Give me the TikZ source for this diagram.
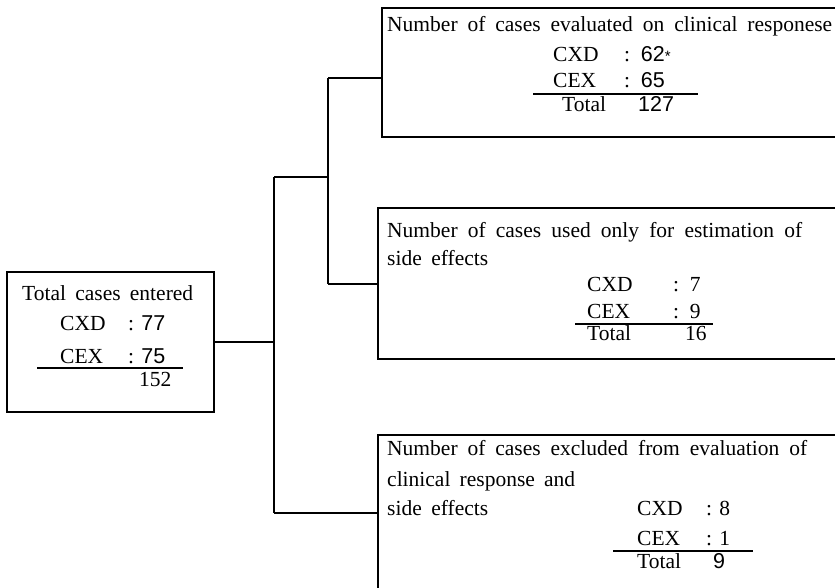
\documentclass[tikz,border=0pt]{standalone}
\usepackage{fontspec}
\setmainfont{Liberation Serif}
\newfontfamily\numfont{Liberation Sans}
\begin{document}
\begin{tikzpicture}[x=1pt,y=-1pt,
  box/.style={draw, line width=1.3pt, rectangle, anchor=north west, inner sep=0pt, outer sep=0pt},
  txt/.style={anchor=base west, inner sep=0pt, font=\fontsize{21.5}{25}\selectfont},
  wire/.style={line width=1.3pt},
  rule/.style={line width=1.3pt}]
\useasboundingbox (0,0) rectangle (835,588);
\clip (0,0) rectangle (835,588);
% boxes
\node[box, minimum width=207pt, minimum height=140pt] (total) at (7,272) {};
\node[box, minimum width=470pt, minimum height=129pt] (eval) at (382,8) {};
\node[box, minimum width=475pt, minimum height=151pt] (side) at (378,208) {};
\node[box, minimum width=475pt, minimum height=156pt] (excl) at (378,435) {};
% junctions
\coordinate (j1) at (274,342);
\coordinate (j1top) at (274,177);
\coordinate (j1bot) at (274,513);
\coordinate (j2) at (328,177);
\coordinate (j2top) at (328,78);
\coordinate (j2bot) at (328,284);
% connectors
\draw[wire] (total.east |- j1) -- (j1);
\draw[wire] (j1top) -- (j1bot);
\draw[wire] (j1top) -- (j2);
\draw[wire] (j2top) -- (j2bot);
\draw[wire] (j2top) -- (eval.west |- j2top);
\draw[wire] (j2bot) -- (side.west |- j2bot);
\draw[wire] (j1bot) -- (excl.west |- j1bot);
% total box text
\node[txt] (t1) at (22,300) {\makebox[171pt][s]{Total cases entered}};
\node[txt] (t2) at (60,330) {CXD};
\node[txt] (t3) at (128,330) {: {\numfont 77}};
\node[txt] (t4) at (60,363) {CEX};
\node[txt] (t5) at (128,363) {: {\numfont 75}};
\draw[rule] (37,368) -- (183,368);
\node[txt] (t6) at (139,386) {152};
% eval box text
\node[txt] (e1) at (387,32) {\makebox[445pt][s]{Number of cases evaluated on clinical responese}};
\node[txt] (e2) at (553,62) {CXD};
\node[txt] (e3) at (624,62) {:\ \ {\numfont 62}{\numfont\fontsize{15}{15}\selectfont *}};
\node[txt] (e4) at (553,88) {CEX};
\node[txt] (e5) at (624,88) {:\ \ {\numfont 65}};
\draw[rule] (533,94) -- (698,94);
\node[txt] (e6) at (562,112) {Total};
\node[txt] (e7) at (638,112) {{\numfont 127}};
% side box text
\node[txt] (s1) at (387,237) {\makebox[415pt][s]{Number of cases used only for estimation of}};
\node[txt] (s2) at (387,265) {\makebox[101pt][s]{side effects}};
\node[txt] (s3) at (587,291) {CXD};
\node[txt] (s4) at (673,291) {:\ \ 7};
\node[txt] (s5) at (587,318) {CEX};
\node[txt] (s6) at (673,318) {:\ \ 9};
\draw[rule] (575,324) -- (713,324);
\node[txt] (s7) at (587,340) {Total};
\node[txt] (s8) at (685,340) {16};
% excl box text
\node[txt] (x1) at (387,455) {\makebox[420pt][s]{Number of cases excluded from evaluation of}};
\node[txt] (x2) at (387,486) {\makebox[188pt][s]{clinical response and}};
\node[txt] (x3) at (387,515) {\makebox[101pt][s]{side effects}};
\node[txt] (x4) at (637,515) {CXD};
\node[txt] (x5) at (706,515) {: 8};
\node[txt] (x6) at (637,545) {CEX};
\node[txt] (x7) at (706,545) {: 1};
\draw[rule] (613,551) -- (753,551);
\node[txt] (x8) at (637,568) {Total};
\node[txt] (x9) at (713,568) {{\numfont 9}};
\end{tikzpicture}
\end{document}
